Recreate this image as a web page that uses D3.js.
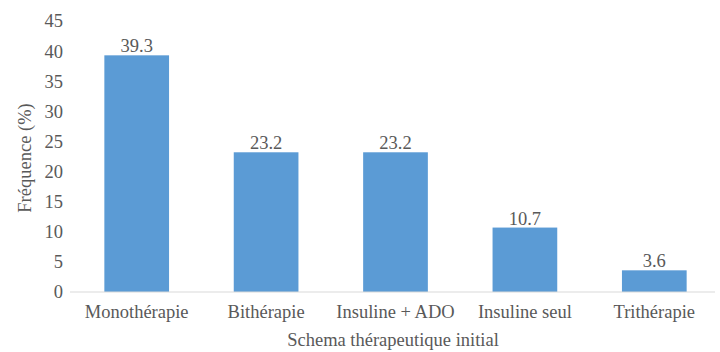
<!DOCTYPE html>
<html>
<head>
<meta charset="utf-8">
<script src="https://cdn.jsdelivr.net/npm/d3@7"></script>
<style>
  body { margin: 0; background: #fff; }
</style>
</head>
<body>
<div id="chart"></div>
<script>
const categories = ['Monothérapie', 'Bithérapie', 'Insuline + ADO', 'Insuline seul', 'Trithérapie'];
const values = [39.3, 23.2, 23.2, 10.7, 3.6];
const yTicks = [0, 5, 10, 15, 20, 25, 30, 35, 40, 45];

const width = 720;
const height = 352;
const margin = { top: 21, right: 1, bottom: 60, left: 72 };
const font = "Liberation Serif";
const fontSize = 18.5;
const textColor = '#595959';

const svg = d3.select('#chart').append('svg').attr('width', width).attr('height', height)
    .style('font-family', font);

const x = d3.scaleBand()
    .domain(categories)
    .range([margin.left, width - margin.right])
    .paddingInner(0.5)
    .paddingOuter(0.25);

const y = d3.scaleLinear()
    .domain([0, 45])
    .range([height - margin.bottom, margin.top]);

// y tick labels, no axis line
svg.append('g')
    .selectAll('text')
    .data(yTicks)
    .enter()
    .append('text')
    .attr('x', margin.left - 9)
    .attr('y', d => y(d))
    .attr('dy', '0.35em')
    .attr('text-anchor', 'end')
    .attr('font-size', fontSize)
    .attr('fill', textColor)
    .text(d => d);

// bars
svg.selectAll('rect.bar')
    .data(values)
    .enter()
    .append('rect')
    .attr('class', 'bar')
    .attr('x', (d, i) => x(categories[i]))
    .attr('y', d => y(d))
    .attr('width', x.bandwidth())
    .attr('height', d => y(0) - y(d))
    .attr('fill', '#5B9BD5');

// value labels
svg.selectAll('text.val')
    .data(values)
    .enter()
    .append('text')
    .attr('class', 'val')
    .attr('x', (d, i) => x(categories[i]) + x.bandwidth() / 2)
    .attr('y', d => y(d) - 3)
    .attr('text-anchor', 'middle')
    .attr('font-size', fontSize)
    .attr('fill', textColor)
    .text(d => d.toFixed(1));

// baseline
svg.append('line')
    .attr('x1', margin.left - 2)
    .attr('x2', width - 5)
    .attr('y1', y(0))
    .attr('y2', y(0))
    .attr('stroke', '#d9d9d9')
    .attr('stroke-width', 1);

// category labels
svg.selectAll('text.cat')
    .data(categories)
    .enter()
    .append('text')
    .attr('class', 'cat')
    .attr('x', d => x(d) + x.bandwidth() / 2)
    .attr('y', y(0) + 26)
    .attr('text-anchor', 'middle')
    .attr('font-size', fontSize)
    .attr('fill', textColor)
    .text(d => d);

// axis titles
svg.append('text')
    .attr('x', 393)
    .attr('y', 346)
    .attr('text-anchor', 'middle')
    .attr('font-size', fontSize)
    .attr('fill', textColor)
    .text('Schema thérapeutique initial');

svg.append('text')
    .attr('transform', 'translate(31,158) rotate(-90)')
    .attr('text-anchor', 'middle')
    .attr('font-size', fontSize)
    .attr('fill', textColor)
    .text('Fréquence (%)');
</script>
</body>
</html>
